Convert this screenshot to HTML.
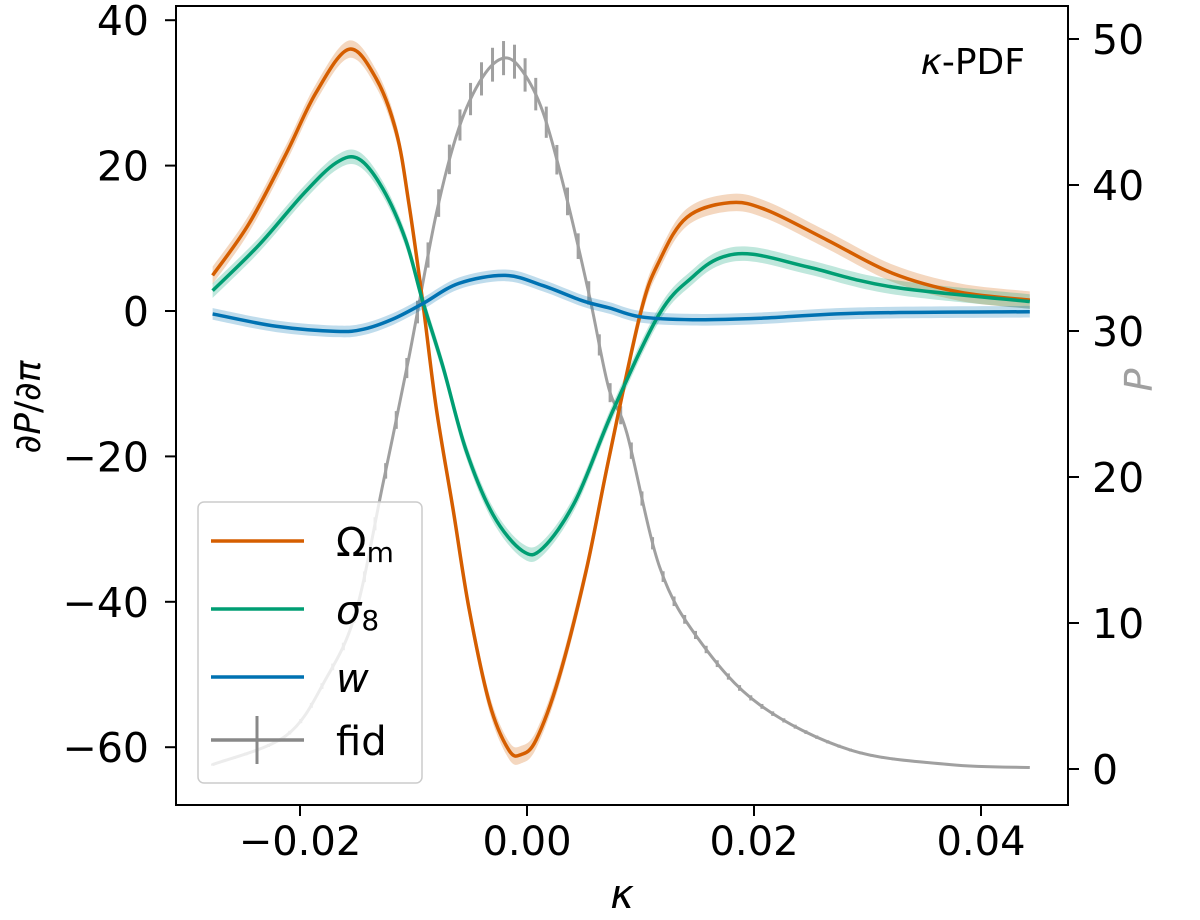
<!DOCTYPE html>
<html><head><meta charset="utf-8"><style>
html,body{margin:0;padding:0;background:#fff;}
svg{display:block;font-family:"DejaVu Sans","Liberation Sans",sans-serif;}
</style></head><body>
<svg id="chart" width="1200" height="920" viewBox="0 0 1200 920" style="position:absolute;left:0;top:0">
<g id="plot"></g>
<g id="axes"></g>
</svg>
<script>
const omX=[-0.0277,-0.0245,-0.0212,-0.0186,-0.0157,-0.0133,-0.0115,-0.0104,-0.0092,-0.0080,-0.0065,-0.0051,-0.0033,-0.0016,-0.0005,0.0008,0.0028,0.0052,0.0072,0.0100,0.0117,0.0141,0.0179,0.0211,0.0264,0.0322,0.0381,0.0443];
const omY=[4.9,12,21.7,30,36,32,24.5,14.7,1.4,-13.3,-27.4,-41,-54,-60.4,-61,-59,-50.5,-35.8,-20.4,-0.3,7,12.9,14.9,13.9,9.8,5.2,2.6,1.5];
const s8X=[-0.0277,-0.0236,-0.0197,-0.0168,-0.0148,-0.0127,-0.0107,-0.0092,-0.0074,-0.0054,-0.0030,-0.0004,0.0014,0.0043,0.0076,0.0117,0.0146,0.0170,0.0199,0.0249,0.0322,0.0443];
const s8Y=[2.8,9.1,16.1,20.4,20.9,16.8,9.8,1.4,-7.7,-19,-28,-33,-32.6,-26,-13.6,-0.3,4.7,7.3,7.8,6,3.3,1.3];
const wX=[-0.0277,-0.0221,-0.0168,-0.0144,-0.0118,-0.0092,-0.0060,-0.0019,0.0014,0.0049,0.0073,0.0100,0.0146,0.0205,0.0293,0.0443];
const wY=[-0.4,-2.1,-2.8,-2.5,-1.1,1.0,3.8,4.9,3.5,1.4,0.4,-0.8,-1.2,-1,-0.3,-0.1];
const fidX=[-0.0277,-0.0212,-0.0177,-0.0151,-0.0127,-0.0104,-0.0080,-0.0060,-0.0039,-0.0020,-0.0004,0.0014,0.0034,0.0055,0.0072,0.0088,0.0117,0.0152,0.0205,0.0285,0.0373,0.0443];
const fidY=[0.3,2.3,6.2,10.7,19.5,28.2,38,43.9,47.4,48.7,47.8,45,39.4,32.4,26.1,23,13.8,8.8,4.4,1.3,0.3,0.1];
const xTicks=[-0.02,0,0.02,0.04];
const xTickLabels=["\u22120.02","0.00","0.02","0.04"];
const yTicks=[40,20,0,-20,-40,-60];
const yTickLabels=["40","20","0","\u221220","\u221240","\u221260"];
const y2Ticks=[0,10,20,30,40,50];
const y2TickLabels=["0","10","20","30","40","50"];

const NS="http://www.w3.org/2000/svg";
const L=176,R=1068,T=6,B=805;
const sx=k=>527+k*11350;
const sy=v=>311-v*7.27;
const sy2=v=>769-v*14.6;
function el(tag,attrs,parent,text){const e=document.createElementNS(NS,tag);for(const k in attrs)e.setAttribute(k,attrs[k]);if(text!==undefined)e.textContent=text;parent.appendChild(e);return e;}
function smooth(pts){let d=`M${pts[0][0]},${pts[0][1]}`;for(let i=0;i<pts.length-1;i++){const p0=pts[i-1]||pts[i],p1=pts[i],p2=pts[i+1],p3=pts[i+2]||p2;d+=` C${p1[0]+(p2[0]-p0[0])/6},${p1[1]+(p2[1]-p0[1])/6} ${p2[0]-(p3[0]-p1[0])/6},${p2[1]-(p3[1]-p1[1])/6} ${p2[0]},${p2[1]}`;}return d;}
const plot=document.getElementById('plot'),axes=document.getElementById('axes');

function band(xs,ys,w,color,name){
  const up=xs.map((x,i)=>[sx(x),sy(ys[i]+w)]),dn=xs.map((x,i)=>[sx(x),sy(ys[i]-w)]).reverse();
  const d=smooth(up)+" L"+smooth(dn).slice(1)+" Z";
  const p=el('path',{d:d,fill:color,opacity:0.25,stroke:'none'},plot);
  
  
}
function line(xs,ys,color,name,f,dash,w){
  const p=el('path',{d:smooth(xs.map((x,i)=>[sx(x),f(ys[i])])),fill:'none',stroke:color,'stroke-width':w||3.5,'stroke-dasharray':dash||'none','stroke-linejoin':'round'},plot);
  
  
  return p;
}
const fidPath=line(fidX,fidY,'#a0a0a0','fid-line',sy2,null,3);
const total=fidPath.getTotalLength();
let lastX=-1e9;
for(let s=0;s<=total;s+=1){
  const pt=fidPath.getPointAtLength(s);
  if(pt.x-lastX>=10.5){
    lastX=pt.x;
    const v=(769-pt.y)/14.6;
    const h=1+v*0.33;
    const eb=el('line',{x1:pt.x,x2:pt.x,y1:pt.y-h,y2:pt.y+h,stroke:'#a0a0a0','stroke-width':3},plot);
    
    
  }
}
band(omX,omY,1.2,'#d55e00','omega-m-band');
band(s8X,s8Y,1.0,'#009e73','sigma8-band');
band(wX,wY,0.8,'#0072b2','w-band');
line(omX,omY,'#d55e00','omega-m-line',sy);
line(omX,omY,'#d55e00','omega-m-dotted',sy,'2 4',2);
line(s8X,s8Y,'#009e73','sigma8-line',sy);
line(wX,wY,'#0072b2','w-line',sy);

const fr=el('rect',{x:L,y:T,width:R-L,height:B-T,fill:'none',stroke:'#000','stroke-width':2},axes);


xTicks.forEach((t,i)=>{
  el('line',{x1:sx(t),x2:sx(t),y1:B,y2:B+11,stroke:'#000','stroke-width':2},axes);
  const tx=el('text',{x:sx(t),y:B+50,'font-size':40,'text-anchor':'middle'},axes,xTickLabels[i]);
  
  
});
yTicks.forEach((t,i)=>{
  el('line',{x1:L-11,x2:L,y1:sy(t),y2:sy(t),stroke:'#000','stroke-width':2},axes);
  const tx=el('text',{x:L-27,y:sy(t)+15,'font-size':41,'text-anchor':'end'},axes,yTickLabels[i]);
  
  
});
y2Ticks.forEach((t,i)=>{
  el('line',{x1:R,x2:R+11,y1:sy2(t),y2:sy2(t),stroke:'#000','stroke-width':2},axes);
  const tx=el('text',{x:R+24,y:sy2(t)+15,'font-size':41,'text-anchor':'start'},axes,y2TickLabels[i]);
  
  
});
</script>
<svg style="position:absolute;left:0;top:0" width="1200" height="920" font-family="DejaVu Sans, sans-serif">
<text x="622" y="908" font-size="40" font-style="italic" text-anchor="middle">κ</text>
<text transform="translate(40,407) rotate(-90)" font-size="36" text-anchor="middle">∂<tspan font-style="italic">P</tspan>/∂<tspan font-style="italic">π</tspan></text>
<text transform="translate(1152,380) rotate(-90)" font-size="38" fill="#a0a0a0" text-anchor="middle" font-style="italic">P</text>
<text x="1025" y="74" font-size="36" text-anchor="end"><tspan font-style="italic">κ</tspan>-PDF</text>
<g>
<rect x="198" y="502" width="224" height="281" rx="6" fill="#fff" fill-opacity="0.8" stroke="#ccc" stroke-width="1.5"/>
<line x1="211" x2="304" y1="541" y2="541" stroke="#d55e00" stroke-width="3.5"/>
<text x="336" y="556" font-size="40">Ω<tspan font-size="28" dy="6">m</tspan></text>
<line x1="211" x2="304" y1="609" y2="609" stroke="#009e73" stroke-width="3.5"/>
<text x="336" y="624" font-size="40"><tspan font-style="italic">σ</tspan><tspan font-size="28" dy="6">8</tspan></text>
<line x1="211" x2="304" y1="677" y2="677" stroke="#0072b2" stroke-width="3.5"/>
<text x="336" y="692" font-size="40" font-style="italic">w</text>
<line x1="211" x2="304" y1="740" y2="740" stroke="#888" stroke-width="3.5"/>
<line x1="257" x2="257" y1="716" y2="764" stroke="#888" stroke-width="3"/>
<text x="336" y="755" font-size="40">fid</text>
</g>
</svg>
</body></html>
